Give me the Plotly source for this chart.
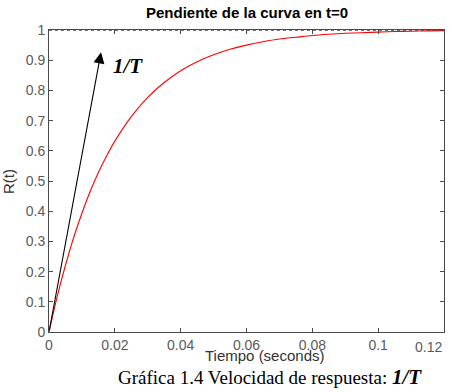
import plotly.graph_objects as go

# Step response samples
t_values = [0, 0.0025, 0.005, 0.0075, 0.01, 0.0125, 0.015, 0.0175, 0.02, 0.025, 0.03, 0.035,
            0.04, 0.045, 0.05, 0.055, 0.06, 0.065, 0.07, 0.075, 0.08, 0.085, 0.09,
            0.095, 0.1, 0.105, 0.11, 0.115, 0.12]
r_values = [0, 0.118, 0.221, 0.313, 0.393, 0.465, 0.528, 0.583, 0.632, 0.713, 0.777, 0.826,
            0.865, 0.895, 0.918, 0.936, 0.950, 0.961, 0.970, 0.976, 0.982, 0.986, 0.989,
            0.991, 0.993, 0.995, 0.996, 0.997, 0.998]

final_t = [0, 0.12]
final_r = [1, 1]

arrow_t = [0, 0.0158]
arrow_r = [0, 0.926]

x_ticks = [0, 0.02, 0.04, 0.06, 0.08, 0.1]
x_tick_labels = ["0", "0.02", "0.04", "0.06", "0.08", "0.1"]
y_ticks = [0, 0.1, 0.2, 0.3, 0.4, 0.5, 0.6, 0.7, 0.8, 0.9, 1]
y_tick_labels = ["0", "0.1", "0.2", "0.3", "0.4", "0.5", "0.6", "0.7", "0.8", "0.9", "1"]

AX = "#4a4a4a"
TICKFONT = dict(family="Liberation Sans, Arial", size=14, color="#5a5a5a")

fig = go.Figure()
fig.add_trace(go.Scatter(x=t_values, y=r_values, mode="lines",
                         line=dict(color="#ff0000", width=1.1, shape="spline"),
                         showlegend=False, hoverinfo="skip"))
fig.add_trace(go.Scatter(x=final_t, y=final_r, mode="lines",
                         line=dict(color="#444444", width=1.6, dash="dot"),
                         showlegend=False, hoverinfo="skip"))

# arrow (slope 1/T at t=0)
fig.add_annotation(x=arrow_t[1], y=arrow_r[1], ax=arrow_t[0], ay=arrow_r[0],
                   xref="x", yref="y", axref="x", ayref="y", text="",
                   showarrow=True, arrowhead=2, arrowsize=2, arrowwidth=1.1,
                   arrowcolor="black", startstandoff=0, standoff=0)
fig.add_annotation(x=0.0239, y=0.881, xref="x", yref="y",
                   text="<b><i>1/T</i></b>", showarrow=False,
                   xanchor="center", yanchor="middle",
                   font=dict(family="Liberation Serif", size=21, color="black"))

# title
fig.add_annotation(x=0.5, y=1, xref="paper", yref="paper", yshift=18,
                   text="<b>Pendiente de la curva en t=0</b>", showarrow=False,
                   xanchor="center", yanchor="middle",
                   font=dict(family="Liberation Sans, Arial", size=15, color="black"))
# last x tick label
fig.add_annotation(x=0.9595, y=0, xref="paper", yref="paper", yshift=-15,
                   text="0.12", showarrow=False, xanchor="center", yanchor="middle",
                   font=TICKFONT)
# axis titles
fig.add_annotation(x=0.547, y=0, xref="paper", yref="paper", yshift=-23,
                   text="Tiempo (seconds)", showarrow=False,
                   xanchor="center", yanchor="middle",
                   font=dict(family="Liberation Sans, Arial", size=15, color="#333333"))
fig.add_annotation(x=-0.101, y=0.497, xref="paper", yref="paper",
                   text="R(t)", showarrow=False, textangle=-90,
                   xanchor="center", yanchor="middle",
                   font=dict(family="Liberation Sans, Arial", size=15, color="#333333"))
# caption
fig.add_annotation(x=0.56, y=0, xref="paper", yref="paper", yshift=-45,
                   text="Gráfica 1.4 Velocidad de respuesta: <b><i><span style='font-size:21px'>1/T</span></i></b>",
                   showarrow=False, xanchor="center", yanchor="middle",
                   font=dict(family="Liberation Serif", size=19, color="black"))

fig.update_layout(
    width=452, height=392,
    margin=dict(l=49, r=8, t=30, b=60),
    paper_bgcolor="white", plot_bgcolor="white",
    showlegend=False,
    xaxis=dict(range=[0, 0.12], tickvals=x_ticks, ticktext=x_tick_labels,
               showgrid=False, zeroline=False, showline=True, linecolor=AX,
               linewidth=1, mirror="ticks", ticks="inside", ticklen=4,
               tickcolor=AX, tickfont=TICKFONT),
    yaxis=dict(range=[0, 1], tickvals=y_ticks, ticktext=y_tick_labels,
               showgrid=False, zeroline=False, showline=True, linecolor=AX,
               linewidth=1, mirror="ticks", ticks="inside", ticklen=4,
               tickcolor=AX, tickfont=TICKFONT),
)

# remove the default 8px page margin so the figure fills the window
fig.write_html("out.html", config={"displayModeBar": False},
               post_script="document.body.style.margin='0';document.body.style.overflow='hidden';")
